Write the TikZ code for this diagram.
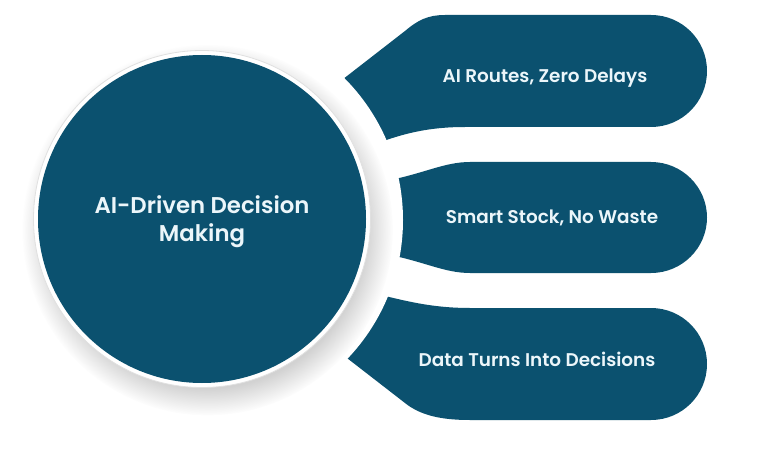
\documentclass[tikz,border=0pt]{standalone}
\usepackage{fontspec}
\setmainfont{Poppins}[UprightFont=* SemiBold]
\usetikzlibrary{shadows}
\definecolor{teal}{RGB}{11,81,111}
\definecolor{txt}{RGB}{236,246,250}
\tikzset{
  bubble/.style={fill=teal, draw=none},
  btext/.style={text=txt, font=\fontsize{18.4}{21}\selectfont, inner sep=0pt},
  htext/.style={text=txt, font=\fontsize{22.8}{28}\selectfont, align=center, inner sep=0pt}
}
\begin{document}
\begin{tikzpicture}[x=1pt,y=-1pt]
\useasboundingbox (0,0) rectangle (757,449);
\fill[white] (0,0) rectangle (757,449);
% bubble 1
\path[bubble] (651,15) .. controls (682,15) and (707,40) .. (707,71)
  .. controls (707,102) and (682,127) .. (651,127) -- (465,127)
  .. controls (430,127) and (405,133) .. (378,143) -- (330,150) -- (320,97)
  -- (405,31) .. controls (418,20) and (428,15) .. (445,15) -- cycle;
% bubble 2
\path[bubble] (651,162) .. controls (682,162) and (707,187) .. (707,217.5)
  .. controls (707,248) and (682,273) .. (651,273) -- (470,273)
  .. controls (445,273) and (425,262) .. (390,255) -- (380,255) -- (380,180)
  -- (390,180) .. controls (425,173) and (445,162) .. (470,162) -- cycle;
% bubble 3
\path[bubble] (651,308) .. controls (682,308) and (707,333) .. (707,364)
  .. controls (707,395) and (682,420) .. (651,420) -- (470,420)
  .. controls (440,420) and (420,415) .. (405,403) -- (325,341) -- (340,290)
  -- (385,296) .. controls (410,302) and (435,308) .. (470,308) -- cycle;
% gap
\fill[white] (202,220) circle[radius=201];
% ring with shadow
\node[circle, minimum size=337pt, inner sep=0pt, fill=white, draw=black!12, line width=0.8pt,
  circular drop shadow={shadow xshift=5pt, shadow yshift=-10pt, shadow scale=1.1, opacity=0.35}]
  (ring) at (202,219) {};
\node[circle, minimum size=328pt, inner sep=0pt, fill=teal] (hub) at (202,219) {};
\node[htext] (hubtext) at (202,222) {AI-Driven Decision\\Making};
\node[btext] (t1) at (545,78) {AI Routes, Zero Delays};
\node[btext] (t2) at (552,218) {Smart Stock, No Waste};
\node[btext] (t3) at (537,359) {Data Turns Into Decisions};
\end{tikzpicture}
\end{document}
